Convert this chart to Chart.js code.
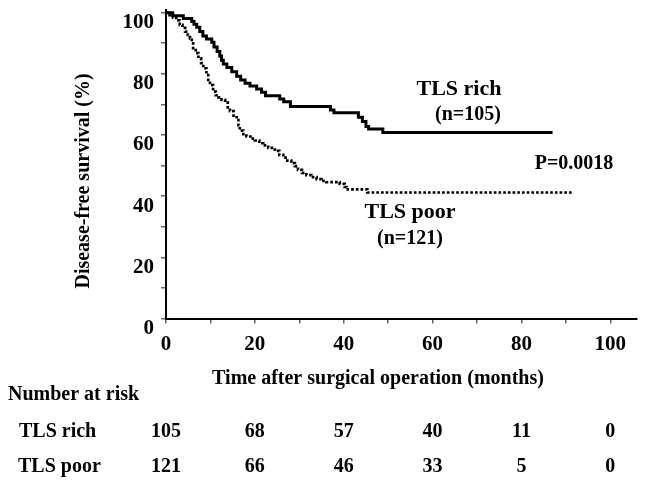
<!DOCTYPE html>
<html>
<head>
<meta charset="utf-8">
<script src="https://cdn.jsdelivr.net/npm/chart.js@4.4.1/dist/chart.umd.min.js"></script>
<style>
  html, body { margin: 0; padding: 0; background: #fff; }
  canvas { display: block; }
</style>
</head>
<body>
<canvas id="kmChart" width="646" height="487"></canvas>
<script>
// Kaplan-Meier steps: time (months) and survival (%) after each drop
const richTime = [0, 1.5, 3.9, 5.8, 6.3, 6.9, 7.6, 8.3, 9.1, 10.3, 10.8, 11.5, 12.1, 12.5, 12.9, 13.7, 14.8, 15.9, 16.8, 17.8, 18.9, 20.4, 21.5, 22.4, 25.6, 26.5, 28.0, 37.0, 37.8, 43.3, 44.2, 45.0, 45.6, 48.8, 87];
const richSurv = [100, 99.0, 98.1, 97.1, 96.2, 95.2, 93.8, 92.4, 91.4, 90.3, 88.8, 87.3, 85.8, 84.4, 83.2, 82.1, 80.7, 79.2, 78.0, 76.9, 76.0, 75.0, 74.0, 72.8, 71.8, 70.9, 69.3, 68.2, 67.3, 65.8, 64.4, 62.8, 62.0, 60.8, 60.8];

const poorTime = [0, 0.8, 1.6, 2.3, 3.1, 3.7, 4.3, 4.9, 5.4, 5.8, 6.1, 6.7, 7.3, 7.9, 8.4, 9.1, 9.5, 9.9, 10.6, 11.2, 11.8, 12.5, 13.3, 13.9, 14.4, 15.2, 15.9, 16.3, 16.6, 17.4, 18.1, 19.0, 20.0, 21.0, 21.9, 23.0, 24.5, 25.5, 26.4, 27.3, 28.2, 29.0, 29.7, 30.6, 31.6, 32.7, 33.9, 35.0, 36.1, 39.1, 40.2, 40.6, 45.3, 91.5];
const poorSurv = [100, 99.2, 98.4, 97.5, 96.0, 95.0, 93.8, 92.7, 91.6, 90.0, 88.4, 86.8, 85.1, 83.5, 81.8, 79.6, 78.0, 76.3, 74.2, 73.0, 72.3, 71.5, 70.6, 69.0, 67.8, 66.3, 64.9, 63.2, 61.4, 60.3, 59.5, 58.8, 58.2, 57.3, 56.6, 55.8, 54.8, 53.5, 52.6, 51.6, 50.8, 49.8, 48.6, 47.6, 46.9, 46.2, 45.6, 45.0, 44.6, 44.0, 43.0, 42.2, 41.2, 41.2];

// number at risk table
const riskTimes = [0, 20, 40, 60, 80, 100];
const riskRich = [105, 68, 57, 40, 11, 0];
const riskPoor = [121, 66, 46, 33, 5, 0];

const serif = '"Liberation Serif", "Times New Roman", serif';

const toPoints = (xs, ys) => xs.map((x, i) => ({ x: x, y: ys[i] }));

// all the text around the plot: axis titles, curve labels, risk table
const textPlugin = {
    id: 'kmText',
    afterDraw: (chart) => {
        const { ctx, scales } = chart;
        const xs = scales.x;
        ctx.save();
        ctx.fillStyle = '#000';

        // y axis title
        ctx.save();
        ctx.translate(84, 181);
        ctx.rotate(-Math.PI / 2);
        ctx.font = `bold 20px ${serif}`;
        ctx.textAlign = 'center';
        ctx.textBaseline = 'middle';
        ctx.fillText('Disease-free survival (%)', 0, 0);
        ctx.restore();

        ctx.textBaseline = 'alphabetic';
        ctx.textAlign = 'center';
        ctx.font = `bold 20px ${serif}`;
        ctx.fillText('Time after surgical operation (months)', 378, 384);

        // labels next to the curves
        ctx.font = `bold 22px ${serif}`;
        ctx.fillText('TLS rich', 459, 95);
        ctx.fillText('TLS poor', 410, 218);
        ctx.font = `bold 20px ${serif}`;
        ctx.fillText('(n=105)', 468, 120);
        ctx.fillText('(n=121)', 410, 244);
        ctx.fillText('P=0.0018', 574, 169);

        // risk table
        ctx.textAlign = 'left';
        ctx.fillText('Number at risk', 8, 400);
        ctx.fillText('TLS rich', 19, 437);
        ctx.fillText('TLS poor', 18, 472);
        ctx.textAlign = 'center';
        riskTimes.forEach((t, i) => {
            const px = xs.getPixelForValue(t);
            ctx.fillText(String(riskRich[i]), px, 437);
            ctx.fillText(String(riskPoor[i]), px, 472);
        });
        ctx.restore();
    }
};

const tickFont = { family: serif, weight: 'bold', size: 21 };

const ctx = document.getElementById('kmChart').getContext('2d');
const kmChart = new Chart(ctx, {
    type: 'scatter',
    data: {
        datasets: [{
            label: 'TLS rich',
            data: toPoints(richTime, richSurv),
            showLine: true,
            stepped: true,
            borderColor: '#000',
            borderWidth: 3,
            pointRadius: 0,
            clip: false
        }, {
            label: 'TLS poor',
            data: toPoints(poorTime, poorSurv),
            showLine: true,
            stepped: true,
            borderColor: '#000',
            borderWidth: 2.7,
            borderDash: [2.7, 2.0],
            borderCapStyle: 'butt',
            pointRadius: 0,
            clip: false
        }]
    },
    options: {
        responsive: false,
        animation: false,
        layout: {
            padding: { left: 0, right: 9, top: 9.6, bottom: 128.5 }
        },
        scales: {
            x: {
                type: 'linear',
                min: 0,
                max: 106,
                afterFit: (s) => { s.height = 40; s.paddingLeft = 0; s.paddingRight = 0; },
                border: { display: true, color: '#000', width: 2 },
                grid: { drawOnChartArea: false, drawTicks: true, tickLength: 5, color: '#666', lineWidth: 1.5 },
                ticks: {
                    stepSize: 10,
                    includeBounds: false,
                    autoSkip: false,
                    maxRotation: 0,
                    padding: 8,
                    color: '#000',
                    font: tickFont,
                    callback: (v) => (v % 20 === 0 ? v : '')
                }
            },
            y: {
                min: 0,
                max: 101,
                afterFit: (s) => { s.width = 166; s.paddingTop = 0; s.paddingBottom = 0; },
                border: { display: true, color: '#000', width: 2 },
                grid: { drawOnChartArea: false, drawTicks: true, tickLength: 5, color: '#666', lineWidth: 1.5 },
                ticks: {
                    stepSize: 10,
                    includeBounds: false,
                    autoSkip: false,
                    padding: 7,
                    labelOffset: 10,
                    color: '#000',
                    font: tickFont,
                    callback: (v) => (v % 20 === 0 ? v : '')
                }
            }
        },
        plugins: {
            legend: { display: false },
            tooltip: { enabled: false }
        }
    },
    plugins: [textPlugin]
});
</script>
</body>
</html>
